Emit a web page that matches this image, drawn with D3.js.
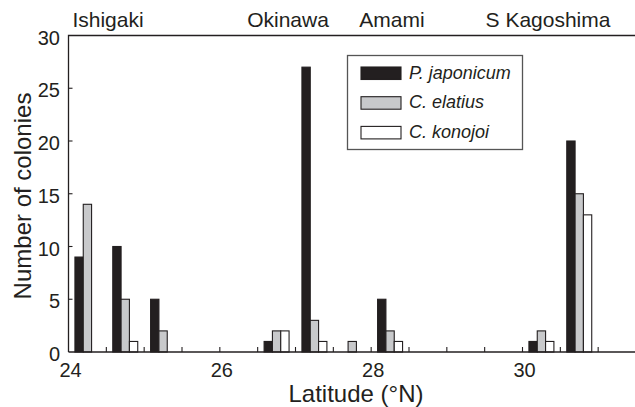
<!DOCTYPE html>
<html lang="en">
<head>
<meta charset="utf-8">
<title>Colonies by latitude</title>
<script src="https://d3js.org/d3.v7.min.js"></script>
<style>
  body { margin: 0; background: #fff; }
  svg { display: block; font-family: "Liberation Sans", Arial, sans-serif; }
</style>
</head>
<body>
<script>
// bin centres (degrees N) and counts per species
const latBins = [24.25, 24.75, 25.25, 26.75, 27.25, 27.75, 28.25, 30.25, 30.75];
const pJaponicum = [9, 10, 5, 1, 27, 0, 5, 1, 20];
const cElatius   = [14, 5, 2, 2, 3, 1, 2, 2, 15];
const cKonojoi   = [0, 1, 0, 2, 1, 0, 1, 1, 13];
const speciesNames = ["P. japonicum", "C. elatius", "C. konojoi"];
const speciesColors = ["#231f20", "#c8c9cb", "#ffffff"];
const regions = ["Ishigaki", "Okinawa", "Amami", "S Kagoshima"];
const regionPos = [108, 288, 392, 548];   // label centres in px
const xTickLabels = [24, 26, 28, 30];
const yTicks = [0, 5, 10, 15, 20, 25, 30];

const W = 635, H = 407;
const plotLeft = 68.5, plotBottom = 352, plotTop = 35.5;

const svg = d3.select("body").append("svg")
    .attr("width", W)
    .attr("height", H);

const x = d3.scaleLinear().domain([24, 30]).range([plotLeft, 522.5]);
const y = d3.scaleLinear().domain([0, 30]).range([plotBottom, plotTop]);

// three bars per bin, each ~0.11 deg wide, middle bar centred on the bin
const sub = d3.scaleBand().domain(speciesNames).range([-0.165, 0.165]).padding(0);

const series = [pJaponicum, cElatius, cKonojoi];
const rows = [];
latBins.forEach(function(lat, i) {
    speciesNames.forEach(function(s, j) {
        rows.push({lat: lat, sp: s, idx: j, v: series[j][i]});
    });
});

svg.append("g").selectAll("rect")
    .data(rows.filter(function(d) { return d.v > 0; }))
    .enter().append("rect")
    .attr("x", function(d) { return x(d.lat + sub(d.sp)); })
    .attr("width", function(d) { return x(d.lat + sub(d.sp) + sub.bandwidth()) - x(d.lat + sub(d.sp)); })
    .attr("y", function(d) { return y(d.v); })
    .attr("height", function(d) { return plotBottom - y(d.v); })
    .attr("fill", function(d) { return speciesColors[d.idx]; })
    .attr("stroke", "#231f20")
    .attr("stroke-width", 1.1);

// frame: left, top, bottom
svg.append("path")
    .attr("d", "M" + plotLeft + "," + plotBottom + "V" + plotTop + "H" + (W + 5))
    .attr("fill", "none").attr("stroke", "#231f20").attr("stroke-width", 1.3);
svg.append("line")
    .attr("x1", plotLeft).attr("x2", W + 5)
    .attr("y1", plotBottom).attr("y2", plotBottom)
    .attr("stroke", "#231f20").attr("stroke-width", 1.3);

// x ticks every half degree, pointing inwards
const xTicks = d3.range(24.5, 31.01, 0.5);
svg.append("g").selectAll("line")
    .data(xTicks)
    .enter().append("line")
    .attr("x1", function(d) { return x(d); }).attr("x2", function(d) { return x(d); })
    .attr("y1", plotBottom).attr("y2", plotBottom - 5)
    .attr("stroke", "#231f20").attr("stroke-width", 1.1);

svg.append("g").selectAll("text")
    .data(xTickLabels)
    .enter().append("text")
    .attr("x", function(d) { return x(d) + 2; })
    .attr("y", 377)
    .attr("text-anchor", "middle")
    .attr("font-size", 20)
    .attr("fill", "#231f20")
    .text(function(d) { return d; });

// y ticks
svg.append("g").selectAll("line")
    .data(yTicks.slice(1, -1))
    .enter().append("line")
    .attr("x1", plotLeft).attr("x2", plotLeft + 4)
    .attr("y1", function(d) { return y(d); }).attr("y2", function(d) { return y(d); })
    .attr("stroke", "#231f20").attr("stroke-width", 1.1);

svg.append("g").selectAll("text")
    .data(yTicks)
    .enter().append("text")
    .attr("x", 60)
    .attr("y", function(d) { return y(d) + 9; })
    .attr("text-anchor", "end")
    .attr("font-size", 20)
    .attr("fill", "#231f20")
    .text(function(d) { return d; });

// region labels above the frame
svg.append("g").selectAll("text")
    .data(regions)
    .enter().append("text")
    .attr("x", function(d, i) { return regionPos[i]; })
    .attr("y", 27)
    .attr("text-anchor", "middle")
    .attr("font-size", 21)
    .attr("fill", "#231f20")
    .text(function(d) { return d; });

// axis titles
svg.append("text")
    .attr("x", 356).attr("y", 402)
    .attr("text-anchor", "middle")
    .attr("font-size", 24)
    .attr("fill", "#231f20")
    .text("Latitude (°N)");

svg.append("text")
    .attr("transform", "translate(31,196) rotate(-90)")
    .attr("text-anchor", "middle")
    .attr("font-size", 24)
    .attr("fill", "#231f20")
    .text("Number of colonies");

// legend
const legend = svg.append("g");
legend.append("rect")
    .attr("x", 347.5).attr("y", 55.5)
    .attr("width", 175).attr("height", 94)
    .attr("fill", "#fff")
    .attr("stroke", "#555").attr("stroke-width", 1.3);

const items = legend.selectAll("g.item")
    .data(speciesNames)
    .enter().append("g")
    .attr("class", "item")
    .attr("transform", function(d, i) { return "translate(361," + (67 + i * 29.7) + ")"; });

items.append("rect")
    .attr("width", 40).attr("height", 12.5)
    .attr("fill", function(d, i) { return speciesColors[i]; })
    .attr("stroke", "#231f20").attr("stroke-width", 1.1);

items.append("text")
    .attr("x", 48).attr("y", 11.5)
    .attr("font-size", 18)
    .attr("font-style", "italic")
    .attr("fill", "#231f20")
    .text(function(d) { return d; });
</script>
</body>
</html>
